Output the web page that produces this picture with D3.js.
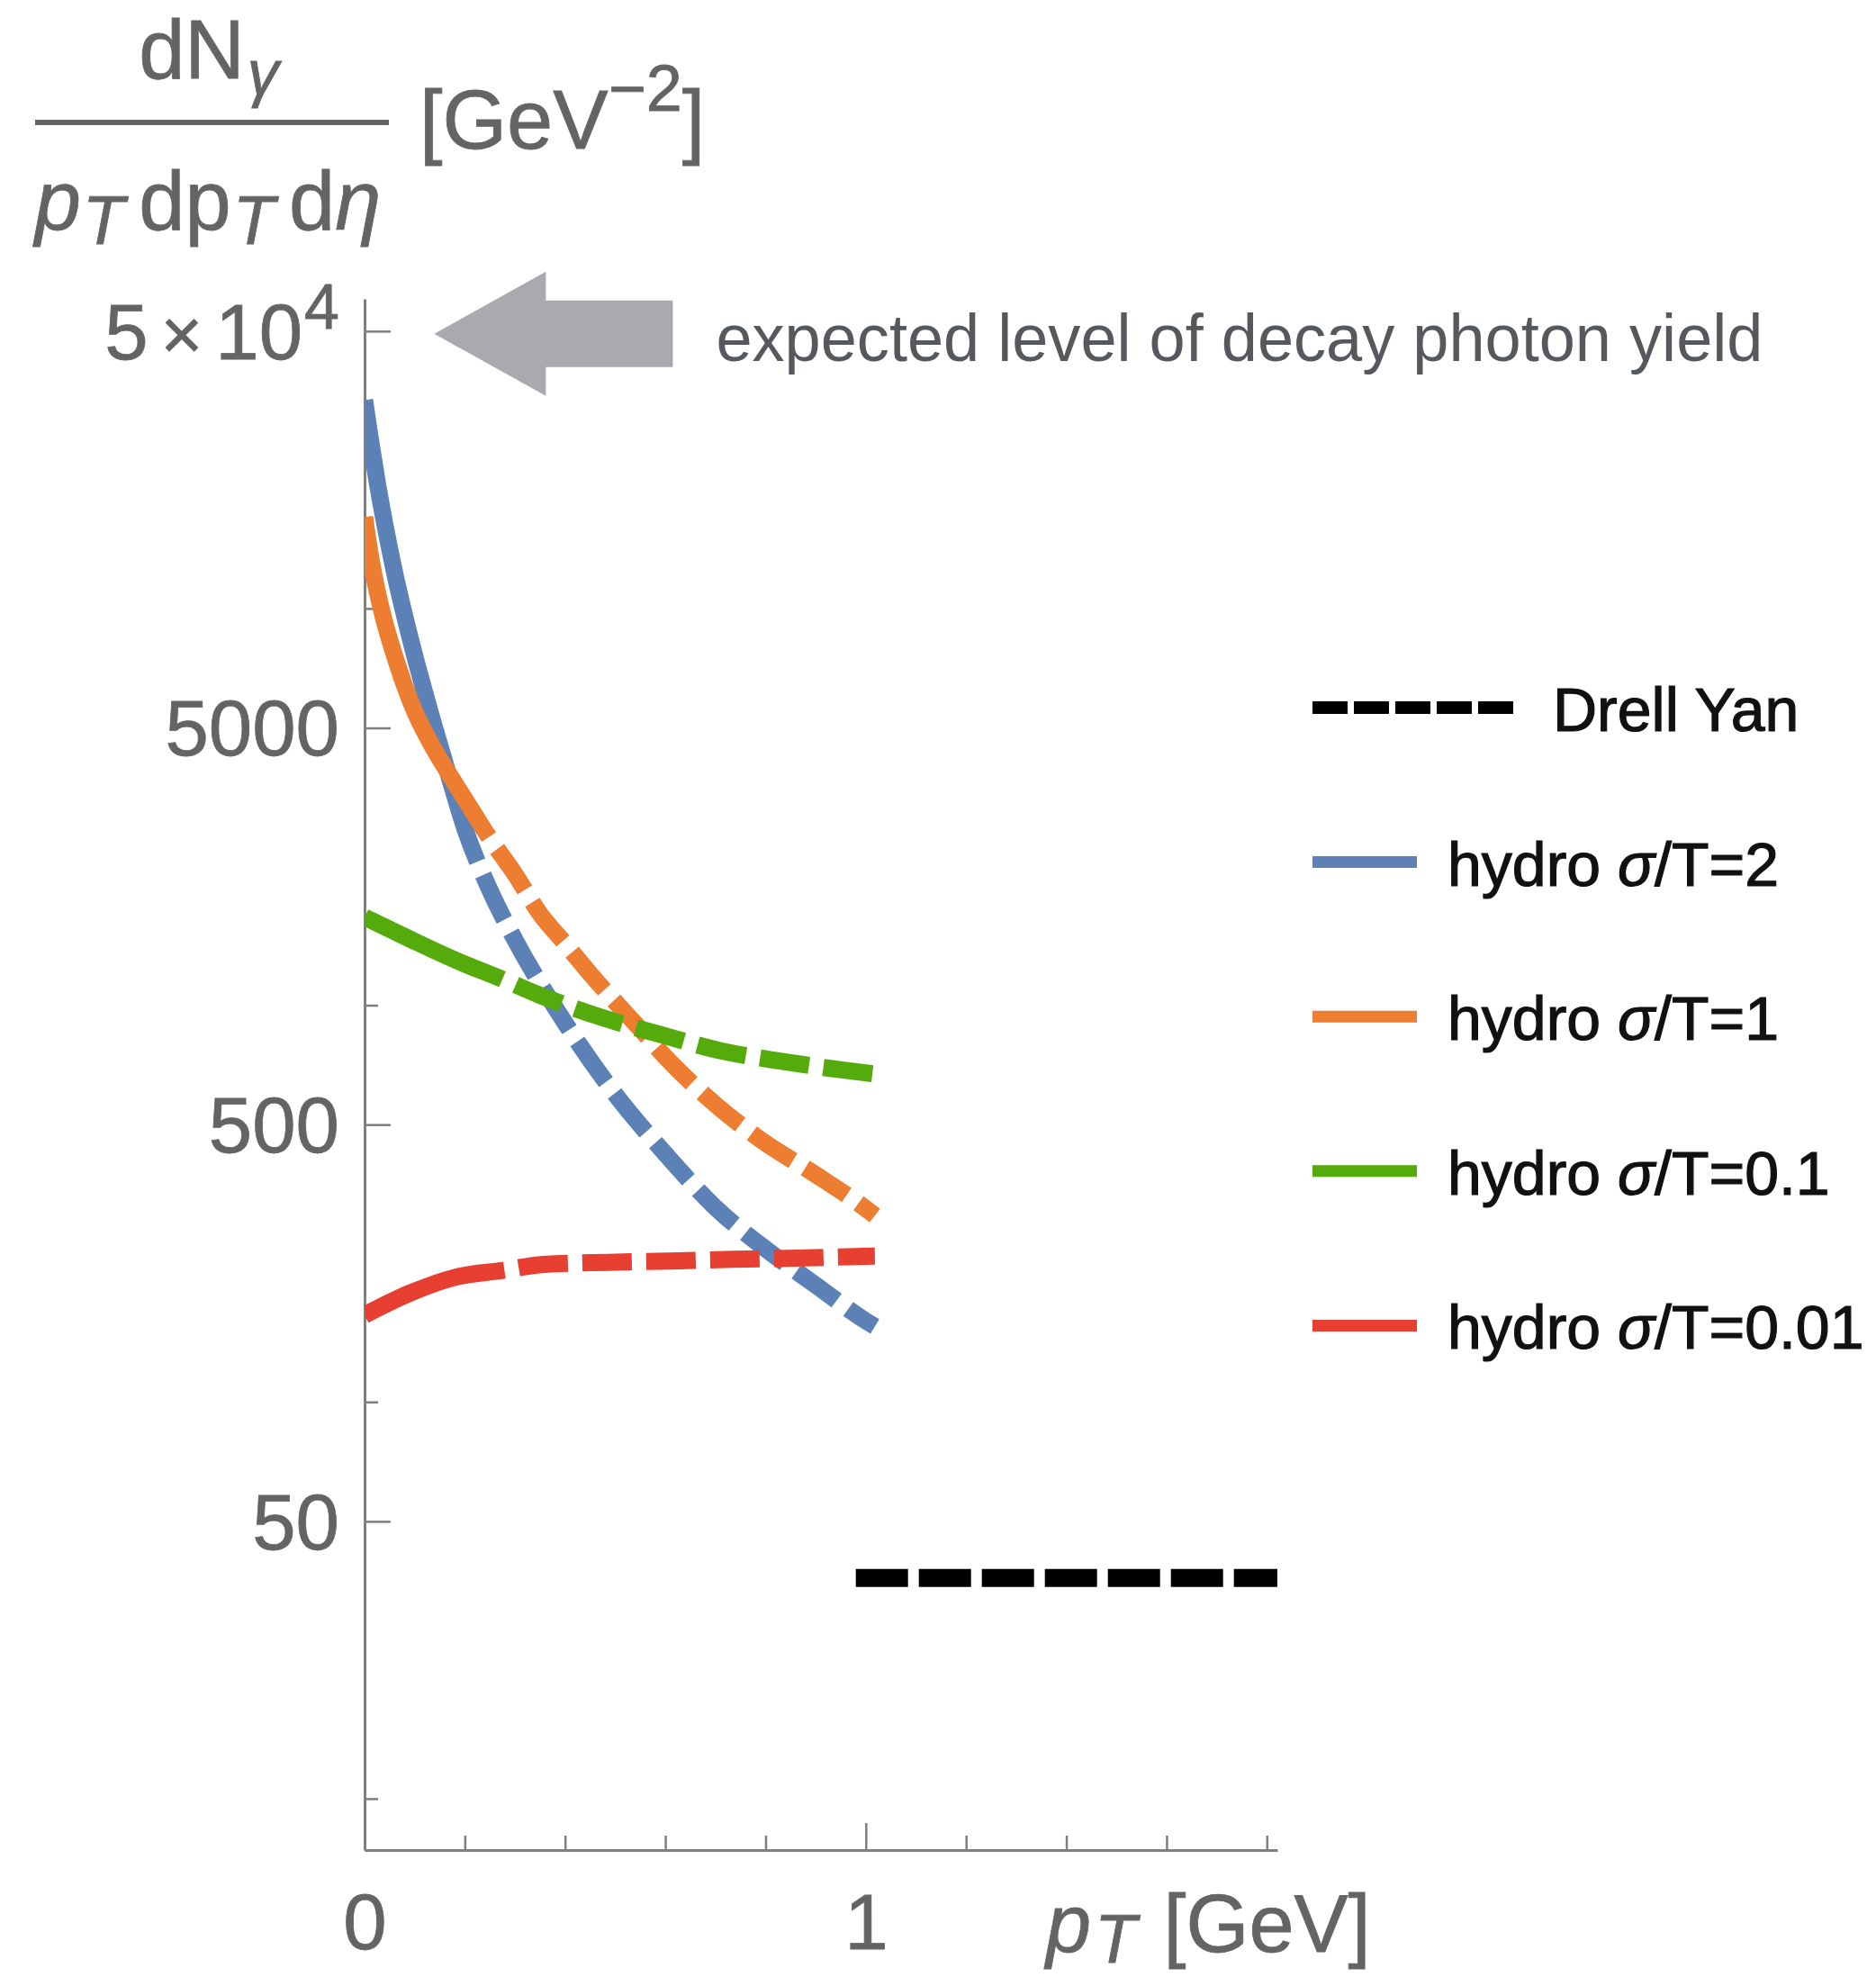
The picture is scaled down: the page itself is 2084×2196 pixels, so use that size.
<!DOCTYPE html>
<html>
<head>
<meta charset="utf-8">
<script src="https://cdn.jsdelivr.net/npm/d3@7"></script>
<style>
  html, body { margin: 0; padding: 0; background: #ffffff; }
  svg { display: block; }
  text { font-family: "Liberation Sans", Arial, Helvetica, sans-serif; }
</style>
</head>
<body>
<svg id="chart" width="2084" height="2196"></svg>
<script>
// ---- data -------------------------------------------------------------
// transverse momentum (GeV) and thermal photon yield (GeV^-2) per viscosity
const ptSigma2    = [0, 0.01, 0.025, 0.04, 0.06, 0.09, 0.125, 0.17, 0.2, 0.25, 0.3, 0.4, 0.5, 0.6, 0.7, 0.8, 0.9, 1.0, 1.018];
const yieldSigma2 = [33500, 27500, 20900, 16400, 12300, 8510, 5820, 3715, 2790, 1950, 1462, 902, 596, 422, 309, 243, 197, 160, 155];

const ptSigma1    = [0, 0.01, 0.02, 0.04, 0.06, 0.08, 0.1, 0.13, 0.16, 0.2, 0.25, 0.3, 0.35, 0.4, 0.45, 0.5, 0.55, 0.6, 0.7, 0.8, 0.9, 1.0, 1.018];
const yieldSigma1 = [17000, 13960, 11880, 9230, 7590, 6380, 5500, 4620, 3980, 3310, 2630, 2140, 1700, 1430, 1200, 1020, 871, 741, 562, 449, 374, 307, 295];

const ptSigma01    = [0, 0.0925, 0.182, 0.275, 0.347, 0.471, 0.594, 0.711, 0.835, 0.959, 1.018];
const yieldSigma01 = [1667, 1464, 1298, 1163, 1063, 933, 841, 767, 721, 685, 671];

const ptSigma001    = [0, 0.0925, 0.182, 0.275, 0.357, 0.4845, 0.608, 0.7354, 0.8626, 0.979, 1.018];
const yieldSigma001 = [165.6, 188.5, 206.3, 214.5, 222, 224.8, 226.5, 228.8, 230.3, 232.6, 233];

// pT above which each hydro curve is an extrapolation (drawn dashed)
const solidUntil = [0.225, 0.248, 0.275, 0.279];

// Drell-Yan background
const ptDrellYan    = [0.98, 1.821];
const yieldDrellYan = [36, 36];

const seriesLabels = ["hydro σ/T=2", "hydro σ/T=1", "hydro σ/T=0.1", "hydro σ/T=0.01"];
const seriesColors = ["#5b81b6", "#ec7d31", "#55aa0c", "#e73f31"];
const drellYanLabel = "Drell Yan";

// axis ticks
const yMajorTicks = [50, 500, 5000, 50000];
const yMinorTicks = [10, 100, 1000, 10000];
const xMajorTicks = [0, 1];
const xMinorTicks = [0.2, 0.4, 0.6, 0.8, 1.2, 1.4, 1.6, 1.8];

// annotated decay-photon level
const decayLevel = 50000;
const decayText = "expected level of decay photon yield";

// ---- scales -----------------------------------------------------------
const svg = d3.select("#chart");
const x = d3.scaleLinear().domain([0, 1.821]).range([405, 1419]);
const y = d3.scaleLog().domain([7.42, 60300]).range([2055, 332]);

const axisColor = "#7f7f7f";
const labelColor = "#646464";

svg.append("defs").append("clipPath").attr("id", "plotClip")
  .append("rect")
  .attr("x", x(0)).attr("y", y.range()[1])
  .attr("width", x(1.821) - x(0)).attr("height", y.range()[0] - y.range()[1]);

// ---- axes -------------------------------------------------------------
const gy = svg.append("g").attr("transform", `translate(${x(0)},0)`)
  .call(d3.axisLeft(y).tickValues(yMajorTicks).tickSize(-29).tickSizeOuter(0).tickPadding(28)
        .tickFormat(d3.format("d")));
svg.append("g").attr("transform", `translate(${x(0)},0)`)
  .call(d3.axisLeft(y).tickValues(yMinorTicks).tickSize(-15).tickSizeOuter(0).tickFormat(""))
  .call(g => g.select(".domain").remove());

const gx = svg.append("g").attr("transform", `translate(0,${y(y.domain()[0])})`)
  .call(d3.axisBottom(x).tickValues(xMajorTicks).tickSize(-30).tickSizeOuter(0).tickFormat(d3.format("d")));
svg.append("g").attr("transform", `translate(0,${y(y.domain()[0])})`)
  .call(d3.axisBottom(x).tickValues(xMinorTicks).tickSize(-16).tickSizeOuter(0).tickFormat(""))
  .call(g => g.select(".domain").remove());

svg.selectAll(".domain").attr("stroke", axisColor).attr("stroke-width", 3);
svg.selectAll(".tick line").attr("stroke", axisColor).attr("stroke-width", 2.5);
svg.selectAll(".tick text")
  .attr("font-family", "'Liberation Sans', Arial, sans-serif")
  .attr("font-size", 87).attr("fill", labelColor)
  .attr("stroke", labelColor).attr("stroke-width", 0.8);

gy.selectAll(".tick text").attr("dy", "0.35em");
gx.selectAll(".tick text").attr("y", 48).attr("dy", "0.71em");

// 5×10^4 label with superscript exponent
gy.selectAll(".tick text").filter(d => d === 50000).each(function () {
  const t = d3.select(this).text("");
  t.append("tspan").text("5");
  t.append("tspan").attr("dx", 14).attr("font-size", 80).text("×");
  t.append("tspan").attr("dx", 14).text("10");
  t.append("tspan").attr("dx", 2).attr("dy", -34).attr("font-size", 70).text("4");
});

// ---- curves -----------------------------------------------------------
const line = d3.line().x(d => x(d[0])).y(d => y(d[1])).curve(d3.curveMonotoneX);
const plot = svg.append("g").attr("clip-path", "url(#plotClip)");

const series = [
  d3.zip(ptSigma2, yieldSigma2),
  d3.zip(ptSigma1, yieldSigma1),
  d3.zip(ptSigma01, yieldSigma01),
  d3.zip(ptSigma001, yieldSigma001)
];

// solid stretch up to the cut, then a regular dash pattern starting with a gap
function solidThenDashed(path, cutX, dash, gap) {
  const node = path.node();
  const total = node.getTotalLength();
  let lo = 0, hi = total;
  for (let i = 0; i < 40; i++) {
    const mid = (lo + hi) / 2;
    if (node.getPointAtLength(mid).x < cutX) lo = mid; else hi = mid;
  }
  const arr = [lo];
  let s = lo;
  while (s < total + dash) { arr.push(gap, dash); s += gap + dash; }
  arr.push(total);
  path.attr("stroke-dasharray", arr.map(v => v.toFixed(2)).join(" "));
}

series.forEach((data, i) => {
  const p = plot.append("path")
    .datum(data)
    .attr("d", line)
    .attr("fill", "none")
    .attr("stroke", seriesColors[i])
    .attr("stroke-width", 19)
    .attr("stroke-linecap", "butt")
    .attr("stroke-linejoin", "round");
  solidThenDashed(p, x(solidUntil[i]), 55, 16);
});

plot.append("path")
  .datum(d3.zip(ptDrellYan, yieldDrellYan))
  .attr("d", line)
  .attr("fill", "none")
  .attr("stroke", "#000000")
  .attr("stroke-width", 20)
  .attr("stroke-dasharray", "58 12");

// ---- decay photon annotation -----------------------------------------
const tipX = x(0.139), tipY = y(decayLevel) + 3;
const arrowPts = [
  [0, 0], [124, -69], [124, -37], [265, -37], [265, 37], [124, 37], [124, 69]
].map(([dx, dy]) => [tipX + dx, tipY + dy]);
svg.append("polygon")
  .attr("points", arrowPts.map(p => p.join(",")).join(" "))
  .attr("fill", "#a9aaad");

svg.append("text")
  .attr("x", tipX + 313).attr("y", tipY + 30)
  .attr("font-family", "Roboto, 'Open Sans', Lato, sans-serif")
  .attr("font-weight", 300)
  .attr("font-size", 75)
  .attr("fill", "#55585d")
  .attr("textLength", 1163)
  .attr("lengthAdjust", "spacingAndGlyphs")
  .text(decayText);

// ---- legend -----------------------------------------------------------
const legend = svg.append("g").attr("transform", "translate(1458,786)");
const rowGap = 171.6;

legend.append("line")
  .attr("x1", 0).attr("x2", 224).attr("y1", 0).attr("y2", 0)
  .attr("stroke", "#000").attr("stroke-width", 14).attr("stroke-dasharray", "39 7");
legend.append("text")
  .attr("x", 267).attr("y", 26)
  .attr("font-size", 68).attr("fill", "#111").attr("stroke", "#111").attr("stroke-width", 1.2)
  .text(drellYanLabel);

seriesLabels.forEach((label, i) => {
  const gy0 = (i + 1) * rowGap;
  legend.append("line")
    .attr("x1", 0).attr("x2", 116).attr("y1", gy0).attr("y2", gy0)
    .attr("stroke", seriesColors[i]).attr("stroke-width", 13);
  const [pre, post] = label.split("σ");
  const t = legend.append("text")
    .attr("x", 150).attr("y", gy0 + 26)
    .attr("font-size", 68).attr("fill", "#111").attr("stroke", "#111").attr("stroke-width", 1.2);
  t.append("tspan").text(pre);
  t.append("tspan").attr("font-style", "italic").text("σ");
  t.append("tspan").text(post);
});

// ---- axis titles ------------------------------------------------------
const yTitle = svg.append("g").attr("fill", labelColor).attr("font-size", 92)
  .attr("stroke", labelColor).attr("stroke-width", 0.8);
const num = yTitle.append("text").attr("x", 232).attr("y", 87).attr("text-anchor", "middle");
num.append("tspan").text("dN");
num.append("tspan").attr("font-style", "italic").attr("font-size", 70).attr("dy", 18).attr("dx", 3).text("γ");

yTitle.append("line")
  .attr("x1", 39).attr("x2", 432).attr("y1", 136).attr("y2", 136)
  .attr("stroke", labelColor).attr("stroke-width", 6);

const den = yTitle.append("text").attr("x", 231).attr("y", 255).attr("text-anchor", "middle");
den.append("tspan").attr("font-style", "italic").text("p");
den.append("tspan").attr("font-style", "italic").attr("font-size", 76).attr("dy", 16).attr("dx", 2).text("T");
den.append("tspan").attr("dy", -16).attr("dx", 16).text("dp");
den.append("tspan").attr("font-style", "italic").attr("font-size", 76).attr("dy", 16).attr("dx", 2).text("T");
den.append("tspan").attr("dy", -16).attr("dx", 16).text("d");
den.append("tspan").attr("font-style", "italic").text("η");

const unit = yTitle.append("text").attr("x", 466).attr("y", 165);
unit.append("tspan").text("[GeV");
unit.append("tspan").attr("font-size", 72).attr("dy", -42).text("−2");
unit.append("tspan").attr("dy", 42).text("]");

const xTitle = svg.append("text")
  .attr("x", 1162).attr("y", 2168)
  .attr("font-size", 90).attr("fill", labelColor)
  .attr("stroke", labelColor).attr("stroke-width", 0.8);
xTitle.append("tspan").attr("font-style", "italic").text("p");
xTitle.append("tspan").attr("font-style", "italic").attr("font-size", 76).attr("dy", 12).attr("dx", 4).text("T");
xTitle.append("tspan").attr("dy", -12).attr("dx", 30).text("[GeV]");
</script>
</body>
</html>
